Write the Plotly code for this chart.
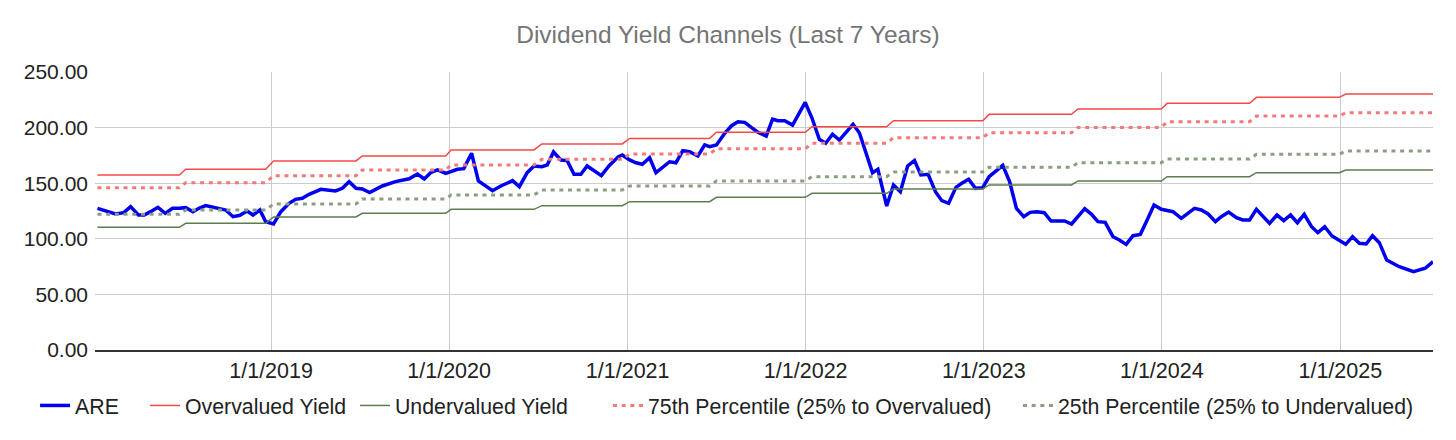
import plotly.graph_objects as go

# ARE dividend-yield-implied price, roughly every two weeks
are_dates = [
    "2018-01-10", "2018-01-27", "2018-02-16", "2018-03-05", "2018-03-19", "2018-04-04", "2018-04-16",
    "2018-04-29", "2018-05-14", "2018-05-29", "2018-06-13", "2018-06-27", "2018-07-10", "2018-07-25",
    "2018-08-06", "2018-08-20", "2018-09-10", "2018-09-30", "2018-10-15", "2018-10-29", "2018-11-13",
    "2018-11-25", "2018-12-09", "2018-12-21", "2019-01-06", "2019-01-21", "2019-02-07", "2019-02-20",
    "2019-03-06", "2019-03-20", "2019-04-13", "2019-05-13", "2019-05-27", "2019-06-10", "2019-06-24",
    "2019-07-07", "2019-07-22", "2019-08-17", "2019-09-13", "2019-10-11", "2019-10-28", "2019-11-11",
    "2019-11-24", "2019-12-08", "2019-12-25", "2020-01-18", "2020-01-31", "2020-02-16", "2020-03-01",
    "2020-03-30", "2020-04-16", "2020-05-10", "2020-05-24", "2020-06-09", "2020-06-23", "2020-07-09",
    "2020-07-20", "2020-08-02", "2020-08-17", "2020-08-30", "2020-09-13", "2020-09-27", "2020-10-10",
    "2020-10-24", "2020-11-08", "2020-11-24", "2020-12-13", "2020-12-21", "2021-01-05", "2021-01-18",
    "2021-01-31", "2021-02-15", "2021-02-28", "2021-03-28", "2021-04-10", "2021-04-24", "2021-05-08",
    "2021-05-25", "2021-06-08", "2021-06-18", "2021-07-02", "2021-07-19", "2021-08-02", "2021-08-15",
    "2021-08-29", "2021-09-12", "2021-09-25", "2021-10-12", "2021-10-25", "2021-11-05", "2021-11-19",
    "2021-12-05", "2021-12-20", "2021-12-31", "2022-01-14", "2022-01-29", "2022-02-11", "2022-02-25",
    "2022-03-11", "2022-04-08", "2022-04-21", "2022-05-03", "2022-05-18", "2022-05-29", "2022-06-16",
    "2022-06-30", "2022-07-14", "2022-07-29", "2022-08-12", "2022-08-25", "2022-09-09", "2022-09-24",
    "2022-10-07", "2022-10-21", "2022-11-05", "2022-11-17", "2022-12-01", "2022-12-15", "2022-12-30",
    "2023-01-12", "2023-01-26", "2023-02-09", "2023-02-23", "2023-03-09", "2023-03-24", "2023-04-06",
    "2023-04-20", "2023-05-05", "2023-05-19", "2023-06-01", "2023-06-16", "2023-06-30", "2023-07-13",
    "2023-07-27", "2023-08-10", "2023-08-23", "2023-09-07", "2023-09-23", "2023-10-06", "2023-10-20",
    "2023-11-03", "2023-11-18", "2023-12-02", "2023-12-16", "2023-12-31", "2024-01-24", "2024-02-10",
    "2024-03-08", "2024-03-22", "2024-04-05", "2024-04-20", "2024-05-02", "2024-05-17", "2024-06-02",
    "2024-06-15", "2024-06-29", "2024-07-13", "2024-07-26", "2024-08-09", "2024-08-24", "2024-09-07",
    "2024-09-21", "2024-10-05", "2024-10-19", "2024-11-03", "2024-11-16", "2024-11-30", "2024-12-15",
    "2024-12-30", "2025-01-12", "2025-01-26", "2025-02-09", "2025-02-23", "2025-03-08", "2025-03-22",
    "2025-04-06", "2025-05-02", "2025-05-31", "2025-06-24", "2025-07-10",
]
are_values = [
    127.4, 125.3, 122.3, 123.5, 128.9, 121.4, 121.4, 124.4, 128.3, 122.9, 127.4, 127.4, 128.0, 124.4,
    127.4, 129.8, 128.0, 125.9, 119.9, 121.1, 125.0, 121.4, 125.9, 115.4, 113.3, 124.4, 131.9, 135.5,
    136.4, 140.0, 144.5, 143.0, 145.4, 151.4, 145.4, 144.8, 141.5, 147.5, 151.4, 154.0, 158.3, 153.8,
    159.5, 161.9, 158.9, 162.5, 163.1, 176.9, 152.0, 143.3, 147.5, 152.3, 146.9, 159.5, 165.5, 164.9,
    166.4, 178.1, 170.9, 170.3, 158.0, 158.0, 165.5, 161.3, 156.8, 165.8, 173.9, 175.4, 170.9, 168.4,
    167.0, 172.9, 159.5, 169.3, 168.4, 179.2, 178.4, 174.5, 184.4, 182.9, 184.4, 194.9, 201.7, 205.3,
    204.7, 199.9, 195.8, 192.4, 207.7, 206.2, 206.2, 202.3, 214.3, 222.7, 208.4, 189.5, 185.9, 194.0,
    188.8, 203.0, 195.4, 178.3, 159.4, 162.5, 129.5, 148.4, 142.4, 165.5, 170.3, 157.4, 158.0, 142.4,
    134.3, 131.9, 146.3, 149.9, 153.5, 145.4, 146.0, 155.9, 161.0, 166.1, 151.4, 127.4, 119.9, 123.8,
    124.4, 123.5, 116.0, 116.0, 116.0, 113.3, 120.5, 127.1, 122.0, 115.4, 114.8, 101.9, 98.9, 95.0,
    102.8, 104.0, 117.0, 130.4, 126.5, 124.4, 118.4, 127.4, 125.9, 122.3, 115.4, 119.9, 124.1, 119.0,
    116.9, 116.9, 126.5, 119.9, 113.9, 121.4, 116.3, 121.4, 114.5, 122.0, 110.9, 105.5, 110.9, 102.5,
    98.3, 95.0, 101.9, 95.9, 95.3, 102.8, 96.5, 80.9, 74.9, 70.4, 73.5, 79.4,
]

# half-year dividend periods: first and last date of each level
level_start = [
    "2018-01-10", "2018-07-10", "2019-01-06", "2019-07-07", "2020-01-05", "2020-07-09", "2021-01-05",
    "2021-07-02", "2022-01-14", "2022-06-30", "2023-01-12", "2023-07-13", "2024-01-12", "2024-07-13",
    "2025-01-12",
]
level_end = [
    "2018-06-27", "2018-12-21", "2019-06-24", "2019-12-25", "2020-06-23", "2020-12-21", "2021-06-18",
    "2021-12-31", "2022-06-16", "2022-12-30", "2023-06-30", "2023-12-31", "2024-06-29", "2024-12-30",
    "2025-07-10",
]
overvalued = [157.4, 162.5, 170.0, 174.5, 179.9, 185.3, 190.3, 195.8, 200.8, 206.2, 211.9, 216.7, 221.8, 227.2, 230.2]
undervalued = [110.3, 113.9, 119.6, 122.9, 126.5, 129.8, 133.4, 137.3, 140.9, 144.8, 148.4, 152.0, 155.9, 159.5, 161.9]
pct75 = [146.0, 150.5, 156.8, 161.9, 166.4, 171.5, 176.3, 181.0, 185.9, 190.9, 195.4, 200.2, 205.3, 210.4, 213.4]
pct25 = [122.0, 125.9, 131.3, 135.8, 139.4, 143.9, 147.5, 152.0, 155.9, 160.1, 164.3, 168.4, 171.8, 176.0, 179.0]

x_ticks = ["2019-01-01", "2020-01-01", "2021-01-01", "2022-01-01", "2023-01-01", "2024-01-01", "2025-01-01"]
y_ticks = [0, 50, 100, 150, 200, 250]


def steps(levels):
    xs, ys = [], []
    for s, e, v in zip(level_start, level_end, levels):
        xs += [s, e]
        ys += [v, v]
    return xs, ys


fig = go.Figure()
fig.add_trace(go.Scatter(x=are_dates, y=are_values, mode="lines", name="ARE", legend="legend",
                         line=dict(color="#0000ee", width=3.5)))

for name, levels, color, width, dash, leg in [
    ("Overvalued Yield", overvalued, "#f44949", 1.5, "solid", "legend2"),
    ("Undervalued Yield", undervalued, "#5b7e4e", 1.5, "solid", "legend3"),
    ("75th Percentile (25% to Overvalued)", pct75, "#f47a7a", 3, "4px,4.7px", "legend4"),
    ("25th Percentile (25% to Undervalued)", pct25, "#8a9e84", 3, "4px,4.7px", "legend5"),
]:
    xs, ys = steps(levels)
    fig.add_trace(go.Scatter(x=xs, y=ys, mode="lines", name=name, legend=leg,
                             line=dict(color=color, width=width, dash=dash)))

# the page body adds an 8px margin, so the figure is 8px smaller and shifted
font = "Liberation Sans, Arial, sans-serif"

# one legend per entry so the gaps between entries match the original
legend_x = [-0.0448, 0.0374, 0.1943, 0.3834, 0.6898]
legends = {}
for i, lx in enumerate(legend_x):
    key = "legend" if i == 0 else f"legend{i + 1}"
    legends[key] = dict(orientation="h", x=lx, xanchor="left", y=-0.2, yanchor="middle",
                        font=dict(size=21.3, color="#222222"), itemwidth=30,
                        bgcolor="rgba(0,0,0,0)")

fig.update_layout(
    width=1448, height=432,
    paper_bgcolor="white", plot_bgcolor="white",
    margin=dict(l=87, r=23, t=64, b=90, autoexpand=False),
    font=dict(family=font, size=21, color="#222222"),
    title=dict(text="Dividend Yield Channels (Last 7 Years)", x=(728 - 8) / 1448, xanchor="center",
               y=1 - 26 / 432, yanchor="middle", yref="container",
               font=dict(family=font, size=24.5, color="#757575")),
    showlegend=True,
    xaxis=dict(range=["2018-01-05", "2025-07-10"], tickvals=x_ticks, tickformat="%-m/%-d/%Y",
               showgrid=True, gridcolor="#cccccc", gridwidth=1.3,
               showline=True, linecolor="#333333", linewidth=1.5, tickangle=0,
               ticks="", tickfont=dict(size=21.5, color="#222222"), zeroline=False),
    yaxis=dict(range=[0, 250], tickvals=y_ticks, tickformat=".2f",
               showgrid=True, gridcolor="#cccccc", gridwidth=1.3,
               zeroline=False, ticks="", ticklen=0, ticklabelstandoff=6,
               tickfont=dict(size=21, color="#222222")),
    **legends,
)

fig.write_html("out.html")
